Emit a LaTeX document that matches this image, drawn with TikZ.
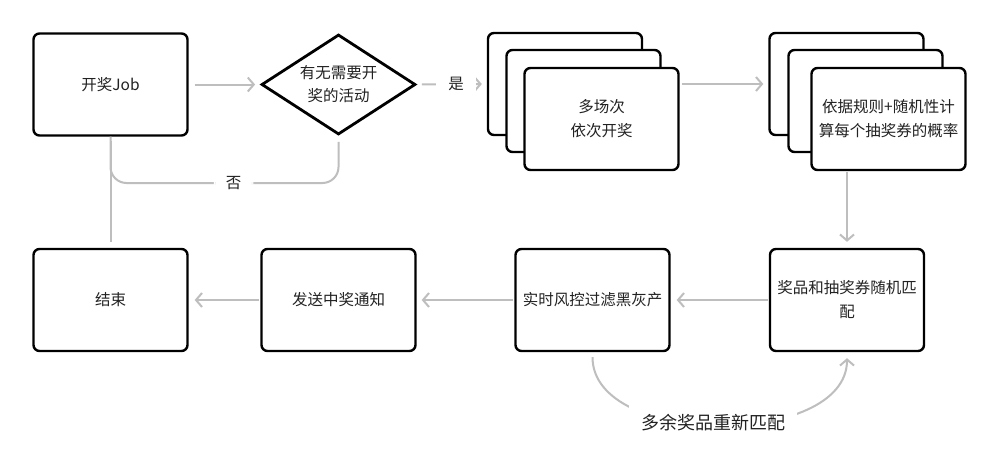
\documentclass[tikz,border=0pt]{standalone}
\usepackage{fontspec}
\setmainfont{Noto Sans CJK SC}
\usetikzlibrary{arrows.meta,shapes.geometric}
\definecolor{lgray}{RGB}{190,190,190}
\definecolor{txt}{RGB}{34,34,34}
\begin{document}
\begin{tikzpicture}[x=1pt,y=-1pt,
  box/.style={draw=black, line width=2.4pt, rounded corners=6pt, fill=white,
    minimum width=154pt, minimum height=102pt, inner sep=0pt, align=center,
    text=txt, font=\fontsize{15.5}{24}\selectfont},
  dia/.style={diamond, draw=black, line width=2.8pt, fill=white, shape aspect=1.52,
    minimum width=154pt, minimum height=100pt, inner sep=0pt, align=center,
    text=txt, font=\fontsize{15.5}{23}\selectfont},
  conn/.style={draw=lgray, line width=2pt},
  arr/.style={conn, -{Straight Barb[length=6pt,width=14pt]}},
  lbl/.style={fill=white, text=txt, inner xsep=12pt, inner ysep=3pt,
    font=\fontsize{15.5}{20}\selectfont}]
\fill[white] (0,0) rectangle (1000,472);
\useasboundingbox (0,0) rectangle (1000,472);
% top row
\node[box] (j) at (110.5,84.5) {开奖Job};
\node[dia] (d) at (338.5,84.5) {有无需要开\\奖的活动};
\node[box] (s1a) at (565,84) {};
\node[box] (s1b) at (583.5,101) {};
\node[box] (s1c) at (601.5,119) {多场次\\依次开奖};
\node[box] (s2a) at (846.5,84) {};
\node[box] (s2b) at (865.5,101) {};
\node[box] (s2c) at (888.5,119) {依据规则+随机性计\\算每个抽奖券的概率};
% bottom row
\node[box] (r1) at (110.5,300) {结束};
\node[box] (r2) at (338.5,300) {发送中奖通知};
\node[box] (r3) at (592.5,300) {实时风控过滤黑灰产};
\node[box] (r4) at (847,300) {奖品和抽奖券随机匹\\配};
\coordinate (h) at (0,183);
% connectors
\draw[arr, shorten <=6pt, shorten >=5pt] (j.east) -- (d.west);
\draw[arr, shorten <=5pt, shorten >=5pt] (d.east) -- node[lbl, pos=0.56] {是} (s1a.west);
\draw[arr, shorten <=2pt, shorten >=5pt] (s1c.east |- s1a.east) -- (s2a.west);
\draw[arr, shorten <=1pt, shorten >=6pt] (s2c.south -| r4.north) -- (r4.north);
\draw[arr, shorten <=1pt, shorten >=6pt] (r4.west) -- (r3.east);
\draw[arr, shorten <=1pt, shorten >=5pt] (r3.west) -- (r2.east);
\draw[arr, shorten <=1pt, shorten >=6pt] (r2.west) -- (r1.east);
\draw[conn, rounded corners=16pt, shorten <=6pt] (d.south) -- (d.south |- h)
  -- node[lbl, pos=0.46] {否} (j.south |- h) -- (j.south);
\draw[conn, shorten <=4pt, shorten >=6pt] (j.south) -- (r1.north);
\draw[arr, shorten <=5pt, shorten >=6pt] (r3.south) .. controls (592.5,448) and (847,448) .. (r4.south);
\node[fill=white, text=txt, inner xsep=12pt, inner ysep=14pt,
  font=\fontsize{18}{22}\selectfont] (m) at (713,423) {多余奖品重新匹配};
\end{tikzpicture}
\end{document}
